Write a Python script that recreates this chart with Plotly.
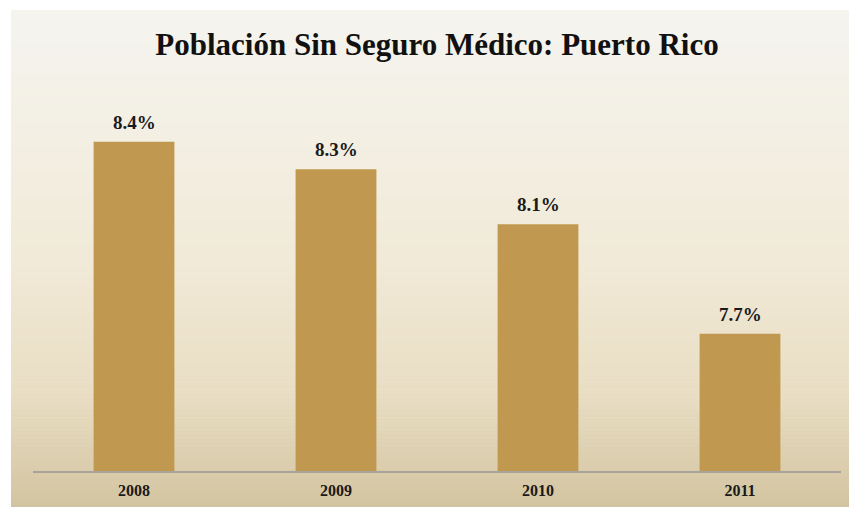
import plotly.graph_objects as go

years = ["2008", "2009", "2010", "2011"]
uninsured_pct = [8.4, 8.3, 8.1, 7.7]
value_labels = ["8.4%", "8.3%", "8.1%", "7.7%"]
title_text = "Población Sin Seguro Médico: Puerto Rico"

W, H = 849, 507
L, R, T, B = 33, 8, 87, 36
plot_w = W - L - R
plot_h = H - T - B

fig = go.Figure()
fig.add_trace(go.Bar(
    x=years, y=uninsured_pct,
    marker=dict(color="#C0984F", line=dict(width=0)),
    hoverinfo="x+y",
))

for i, (v, lab) in enumerate(zip(uninsured_pct, value_labels)):
    fig.add_annotation(x=i, y=v, text="<b>" + lab + "</b>", showarrow=False,
                       yanchor="bottom", yshift=7,
                       font=dict(family="Liberation Serif", size=19, color="#1a1a1a"))

# gradient panel background
def px_to_paper_x(px):
    return (px - L) / plot_w

def px_to_paper_y(py):
    return (H - B - py) / plot_h

stops = [(0.0, (245, 244, 239)), (0.5, (241, 234, 216)), (0.76, (233, 222, 196)),
         (1.0, (211, 196, 160))]

def color_at(t):
    for (t0, c0), (t1, c1) in zip(stops[:-1], stops[1:]):
        if t <= t1:
            f = (t - t0) / (t1 - t0)
            return "rgb(%d,%d,%d)" % tuple(round(a + (b - a) * f) for a, b in zip(c0, c1))
    return "rgb(%d,%d,%d)" % stops[-1][1]

top_px, bot_px = 10, H + 2
N = 125
step = (bot_px - top_px) / N
shapes = []
for i in range(N):
    y0 = top_px + i * step
    y1 = y0 + step + 0.6
    shapes.append(dict(type="rect", xref="paper", yref="paper",
                       x0=px_to_paper_x(11), x1=px_to_paper_x(W + 2),
                       y0=px_to_paper_y(y1), y1=px_to_paper_y(y0),
                       fillcolor=color_at((i + 0.5) / N), line=dict(width=0),
                       layer="below"))

fig.update_layout(
    width=W, height=H,
    margin=dict(l=L, r=R, t=T, b=B, autoexpand=False),
    paper_bgcolor="white",
    plot_bgcolor="rgba(0,0,0,0)",
    shapes=shapes,
    bargap=0.6,
    showlegend=False,
    title=dict(text="<b>" + title_text + "</b>", x=437 / W, xref="container",
               xanchor="center", y=1 - 44 / H, yanchor="middle",
               font=dict(family="Liberation Serif", size=31, color="#111111")),
    xaxis=dict(type="category", automargin=False, range=[-0.5, 3.5],
               showline=True, linecolor="#A8A49C", linewidth=1.5,
               showgrid=False, ticks="", ticklabelstandoff=4,
               tickfont=dict(family="Liberation Serif", size=16, color="#1a1a1a"),
               tickprefix="<b>", ticksuffix="</b>"),
    yaxis=dict(range=[7.2, 8.6], visible=False, showgrid=False, automargin=False),
)

fig.write_html("out.html", config={"displayModeBar": False},
               post_script="document.body.style.margin='0';document.body.style.overflow='hidden';")
